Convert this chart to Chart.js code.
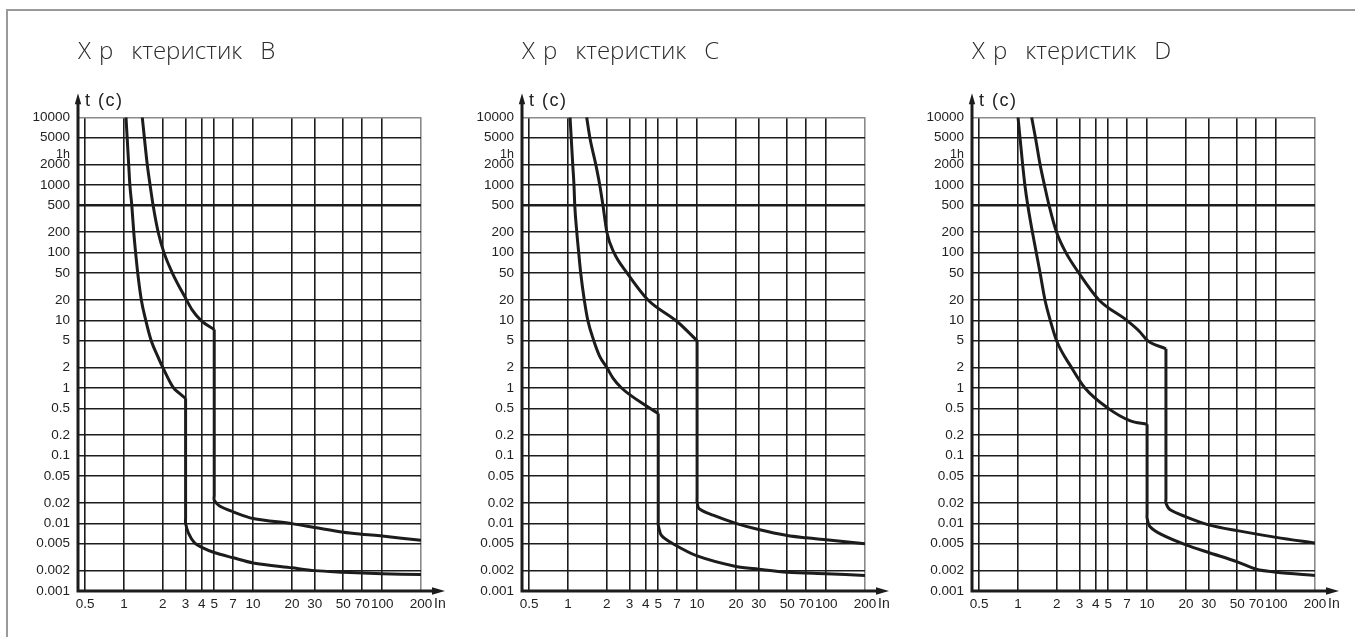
<!DOCTYPE html>
<html>
<head>
<meta charset="utf-8">
<script src="https://cdn.jsdelivr.net/npm/chart.js@4.4.1/dist/chart.umd.min.js"></script>
<style>
  html, body { margin: 0; padding: 0; background: #fff; width: 1355px; height: 637px; overflow: hidden; }
  .frame { position: absolute; left: 6px; top: 9px; width: 1400px; height: 700px;
           border-top: 2px solid #9a9a9a; border-left: 2px solid #9a9a9a; }
  canvas { position: absolute; top: 0; }
</style>
</head>
<body>
<div class="frame"></div>
<canvas id="chartB" width="450" height="637" style="left:0px"></canvas>
<canvas id="chartC" width="450" height="637" style="left:444px"></canvas>
<canvas id="chartD" width="450" height="637" style="left:894px"></canvas>
<script>
// tripping characteristics, current in multiples of In, time in seconds

const CURRENT_TICKS = [0.5, 1, 2, 3, 4, 5, 7, 10, 20, 30, 50, 70, 100, 200];
const TIME_TICKS = [0.001, 0.002, 0.005, 0.01, 0.02, 0.05, 0.1, 0.2, 0.5, 1, 2, 5, 10, 20, 50,
                    100, 200, 500, 1000, 2000, 3600, 5000, 10000];
// "1h" hangs just below its tick so it stays clear of the 5000 label
const TIME_LABELS = ['0.001', '0.002', '0.005', '0.01', '0.02', '0.05', '0.1', '0.2', '0.5', '1', '2', '5',
                     '10', '20', '50', '100', '200', '500', '1000', '2000', ['', '1h'], '5000', '10000'];
const HOUR = 3600;
const TIME_UNIT = 't (c)';
const CURRENT_UNIT = 'In';

const TITLE_B = 'Х\u2004р\u2002\u2005ктеристик\u2002\u2005B';
const TITLE_C = 'Х\u2004р\u2002\u2005ктеристик\u2002\u2005C';
const TITLE_D = 'Х\u2004р\u2002\u2005ктеристик\u2002\u2005D';

// [In multiple, seconds]; thermal = slow part, magnetic = drop plus the instantaneous tail
const B_LOW_THERMAL = [[1.036, 10000], [1.087, 2000], [1.11, 1000], [1.149, 500], [1.19, 200], [1.23, 100],
  [1.277, 50], [1.362, 20], [1.474, 10], [1.625, 5], [1.825, 2.94], [2.0, 2], [2.42, 1], [2.66, 0.85], [3, 0.7]];
const B_LOW_MAGNETIC = [[3, 0.7], [3, 0.012], [3, 0.01], [3.15, 0.0072], [3.5, 0.0052], [4, 0.0044],
  [5, 0.0037], [7, 0.0031], [10, 0.0026], [20, 0.0022], [30, 0.002], [50, 0.0019], [100, 0.0018], [200, 0.00175]];
const B_HIGH_THERMAL = [[1.385, 10000], [1.514, 2000], [1.592, 1000], [1.68, 500], [1.84, 200], [2.04, 100],
  [2.37, 50], [3.05, 20], [3.36, 14.4], [3.94, 10], [5, 7.3]];
const B_HIGH_MAGNETIC = [[5, 7.3], [5, 0.026], [5, 0.022], [5.5, 0.018], [7, 0.0148], [10, 0.0118],
  [20, 0.0099], [30, 0.0087], [50, 0.0074], [70, 0.0069], [100, 0.0065], [200, 0.0056]];

const C_LOW_THERMAL = [[1.037, 10000], [1.088, 2000], [1.112, 1000], [1.128, 500], [1.17, 200], [1.21, 100],
  [1.254, 50], [1.337, 20], [1.424, 10], [1.584, 5], [1.76, 2.94], [2.0, 2], [2.23, 1.4], [2.6, 1],
  [4.0, 0.55], [5, 0.42]];
const C_LOW_MAGNETIC = [[5, 0.42], [5, 0.011], [5, 0.0095], [5.3, 0.0066], [6.5, 0.005], [10, 0.0033],
  [20, 0.0023], [30, 0.0021], [50, 0.0019], [100, 0.0018], [200, 0.0017]];
const C_HIGH_THERMAL = [[1.395, 10000], [1.477, 5000], [1.642, 2000], [1.761, 1000], [1.865, 500], [2.0, 200],
  [2.27, 100], [2.87, 50], [4.17, 20], [7, 9.6], [10, 5]];
const C_HIGH_MAGNETIC = [[10, 5], [10, 0.024], [10, 0.021], [10.35, 0.0165], [13.3, 0.0132], [20, 0.01],
  [30, 0.0081], [50, 0.0066], [70, 0.0061], [100, 0.0057], [200, 0.005]];

const D_LOW_THERMAL = [[1.0, 10000], [1.036, 5000], [1.086, 2000], [1.13, 1000], [1.19, 500], [1.293, 200],
  [1.385, 100], [1.483, 50], [1.618, 20], [1.777, 10], [1.99, 5], [2.6, 2], [3.3, 1], [5, 0.5], [7.34, 0.33], [10, 0.29]];
const D_LOW_MAGNETIC = [[10, 0.29], [10, 0.014], [10, 0.012], [10.5, 0.009], [13, 0.0068], [20, 0.0048],
  [30, 0.0037], [50, 0.0027], [70, 0.0021], [100, 0.0019], [200, 0.0017]];
const D_HIGH_THERMAL = [[1.275, 10000], [1.365, 5000], [1.483, 2000], [1.602, 1000], [1.74, 500], [1.99, 200],
  [2.35, 100], [2.96, 50], [4.24, 20], [6.95, 10], [8.7, 6.9], [10.1, 5], [14, 3.8]];
const D_HIGH_MAGNETIC = [[14, 3.8], [14, 0.023], [14, 0.02], [15, 0.016], [20, 0.0125], [30, 0.0095],
  [50, 0.0078], [100, 0.0062], [200, 0.0051]];

const INK = '#1c1c1c';
Chart.defaults.font.family = "'Liberation Sans', Arial, Helvetica, sans-serif";
Chart.defaults.color = '#222';

// axis lines with arrow heads plus the unit labels next to them
const axisArrows = {
  id: 'axisArrows',
  afterDraw(chart) {
    const { ctx, chartArea: a } = chart;
    ctx.save();
    ctx.strokeStyle = INK;
    ctx.fillStyle = INK;
    ctx.lineWidth = 3;

    ctx.beginPath();
    ctx.moveTo(a.left, a.bottom + 1.5);
    ctx.lineTo(a.left, a.top - 14);
    ctx.moveTo(a.left - 1.5, a.bottom);
    ctx.lineTo(a.right + 12, a.bottom);
    ctx.stroke();

    ctx.beginPath();
    ctx.moveTo(a.left - 3.2, a.top - 13);
    ctx.lineTo(a.left, a.top - 24);
    ctx.lineTo(a.left + 3.2, a.top - 13);
    ctx.closePath();
    ctx.fill();

    ctx.beginPath();
    ctx.moveTo(a.right + 11, a.bottom - 3.8);
    ctx.lineTo(a.right + 24, a.bottom);
    ctx.lineTo(a.right + 11, a.bottom + 3.8);
    ctx.closePath();
    ctx.fill();

    ctx.fillStyle = '#222';
    ctx.textBaseline = 'middle';
    ctx.textAlign = 'left';
    ctx.font = "18px 'Liberation Sans', Arial, sans-serif";
    ctx.letterSpacing = '1.5px';
    ctx.fillText(TIME_UNIT, a.left + 7, a.top - 16);
    ctx.letterSpacing = '0px';
    ctx.font = "14px 'Liberation Sans', Arial, sans-serif";
    ctx.fillText(CURRENT_UNIT, a.right + 13, a.bottom + 13);
    ctx.restore();
  }
};

function curveDataset(pairs, smooth) {
  return {
    data: pairs.map(([x, y]) => ({ x, y })),
    borderColor: INK,
    borderWidth: 3,
    pointRadius: 0,
    fill: false,
    borderJoinStyle: 'round',
    // the thermal branch is a function of current, so monotone keeps it free of wiggles
    cubicInterpolationMode: smooth === 'monotone' ? 'monotone' : 'default',
    tension: 0.3
  };
}

function makeChart(id, title, lowThermal, lowMagnetic, highThermal, highMagnetic) {
  return new Chart(document.getElementById(id), {
    type: 'line',
    data: {
      datasets: [
        curveDataset(lowThermal, 'monotone'),
        curveDataset(lowMagnetic),
        curveDataset(highThermal, 'monotone'),
        curveDataset(highMagnetic)
      ]
    },
    options: {
      responsive: false,
      animation: false,
      events: [],
      layout: { padding: { left: 18, right: 29, top: 0, bottom: 16 } },
      plugins: {
        legend: { display: false },
        tooltip: { enabled: false },
        title: {
          display: true,
          text: title,
          align: 'start',
          fullSize: false,
          color: '#2b2b2b',
          font: { family: "'Open Sans', 'Noto Sans', sans-serif", size: 24, weight: 300 },
          padding: { top: 38, bottom: 50.5 }
        }
      },
      scales: {
        x: {
          type: 'logarithmic',
          min: 0.44,
          max: 200,
          afterBuildTicks: scale => { scale.ticks = CURRENT_TICKS.map(value => ({ value })); },
          afterFit: scale => { scale.height = 30; },
          ticks: {
            autoSkip: false,
            maxRotation: 0,
            padding: 5,
            font: { size: 13.5 },
            callback: value => String(value)
          },
          grid: {
            drawTicks: false,
            color: ctx => (ctx.tick && ctx.tick.value === 200 ? '#8a8a8a' : INK),
            lineWidth: 1.6
          },
          border: { display: false }
        },
        y: {
          type: 'logarithmic',
          min: 0.001,
          max: 10000,
          afterBuildTicks: scale => { scale.ticks = TIME_TICKS.map(value => ({ value })); },
          afterFit: scale => { scale.width = 60; },
          ticks: {
            autoSkip: false,
            padding: 8,
            font: ctx => ({ size: ctx.tick && ctx.tick.value === HOUR ? 12.5 : 13.5 }),
            callback: value => TIME_LABELS[TIME_TICKS.indexOf(value)]
          },
          grid: {
            drawTicks: false,
            color: ctx => {
              const v = ctx.tick && ctx.tick.value;
              if (v === HOUR || v === 0.001) return 'rgba(0,0,0,0)';
              if (v === 10000) return '#8a8a8a';
              return INK;
            },
            lineWidth: ctx => (ctx.tick && ctx.tick.value === 500 ? 2.6 : 1.6)
          },
          border: { display: false }
        }
      }
    },
    plugins: [axisArrows]
  });
}

makeChart('chartB', TITLE_B, B_LOW_THERMAL, B_LOW_MAGNETIC, B_HIGH_THERMAL, B_HIGH_MAGNETIC);
makeChart('chartC', TITLE_C, C_LOW_THERMAL, C_LOW_MAGNETIC, C_HIGH_THERMAL, C_HIGH_MAGNETIC);
makeChart('chartD', TITLE_D, D_LOW_THERMAL, D_LOW_MAGNETIC, D_HIGH_THERMAL, D_HIGH_MAGNETIC);
</script>
</body>
</html>
